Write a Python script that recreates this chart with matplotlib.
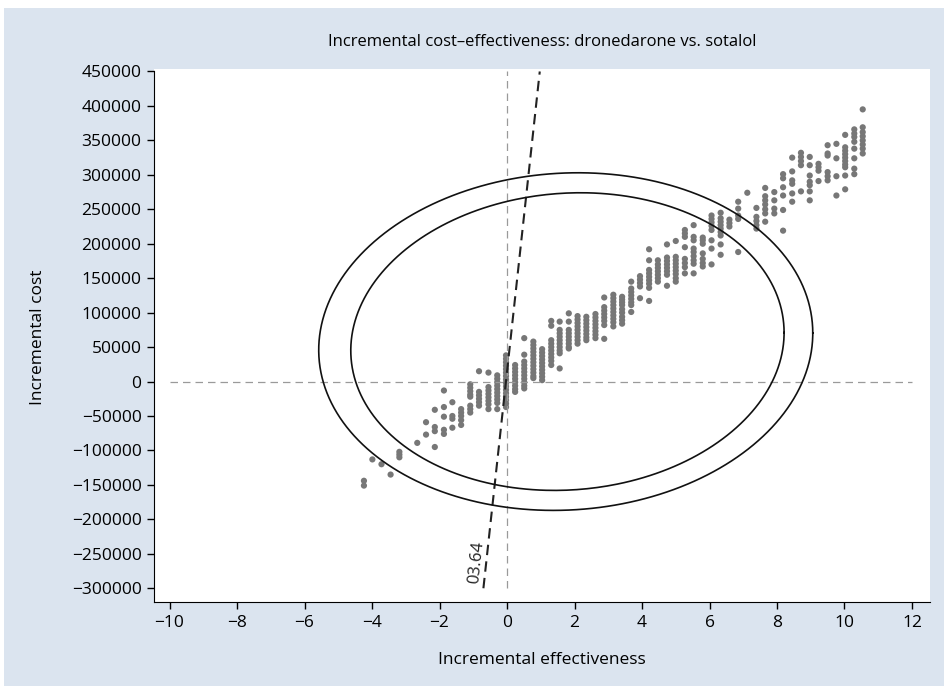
import numpy as np
import matplotlib.pyplot as plt
from matplotlib.patches import Rectangle
from matplotlib.ticker import FuncFormatter

plt.rcParams['font.family'] = ['Open Sans', 'DejaVu Sans']

# bootstrap replicates, read column by column (effectiveness, cost in thousands)
col_eff = [-4.24, -3.99, -3.72, -3.45, -3.19, -2.66, -2.40, -2.14, -1.87, -1.62,
           -1.36, -1.09, -0.83, -0.55, -0.29, -0.03, 0.24, 0.51, 0.78, 1.04,
           1.31, 1.56, 1.83, 2.09, 2.35, 2.62, 2.88, 3.15, 3.41, 3.68,
           3.94, 4.21, 4.47, 4.74, 5.00, 5.27, 5.53, 5.80, 6.06, 6.33,
           6.59, 6.85, 7.12, 7.39, 7.65, 7.92, 8.18, 8.45, 8.71, 8.97,
           9.23, 9.50, 9.76, 10.02, 10.29, 10.54]
col_cost = [
    [-144, -151], [-113], [-120], [-135], [-102, -106, -110], [-89], [-59, -77],
    [-41, -66, -72, -95], [-13, -37, -51, -70, -76], [-30, -50, -54, -67],
    [-40, -45, -50, -56, -63],
    [-4, -9, -14, -19, -22, -35, -40, -45],
    [15, -15, -20, -25, -30, -35],
    [13, -8, -13, -18, -23, -28, -33, -40],
    [9, 4, -1, -6, -11, -16, -21, -26, -31, -40],
    [38, 33, 28, 23, 18, 13, 8, 3, -2, -7, -12, -17, -22, -27, -32, -37],
    [24, 19, 14, 9, 4, -1, -6, -11, -15],
    [63, 39, 29, 24, 19, 14, 9, 4, -1, -6, -10],
    [58, 53, 48, 43, 38, 33, 28, 23, 18, 13, 8, 5],
    [47, 42, 37, 32, 27, 22, 17, 12, 7, 2],
    [88, 81, 60, 55, 50, 45, 40, 35, 30, 24],
    [87, 75, 70, 65, 60, 55, 50, 45, 41, 19],
    [99, 87, 75, 70, 65, 60, 55, 50, 48],
    [95, 90, 85, 80, 75, 70, 65, 60, 55],
    [94, 89, 84, 79, 74, 69, 64, 60],
    [98, 93, 88, 83, 78, 73, 68, 63],
    [122, 108, 103, 98, 93, 88, 82, 62],
    [126, 121, 116, 111, 106, 101, 96, 91, 86, 80],
    [123, 119, 115, 111, 105, 100, 94, 89, 84],
    [145, 135, 130, 125, 120, 115, 111, 101],
    [153, 148, 143, 138, 121],
    [192, 176, 162, 157, 152, 147, 142, 136, 117],
    [176, 170, 165, 160, 155, 150, 145],
    [199, 180, 175, 170, 165, 160, 155, 139],
    [204, 181, 176, 171, 166, 161, 156, 150, 145],
    [220, 215, 210, 195, 178, 172, 166, 157],
    [227, 210, 205, 193, 188, 182, 176, 171, 157],
    [209, 205, 200, 186, 178, 172, 167],
    [241, 236, 231, 226, 220, 205, 193, 170],
    [245, 237, 232, 227, 222, 217, 212, 199, 184],
    [235, 230, 225],
    [261, 251, 241, 236, 188],
    [274],
    [252, 239, 233, 227, 222],
    [281, 269, 263, 257, 250, 244, 232],
    [275, 263, 251, 244],
    [301, 295, 282, 270, 249, 219],
    [325, 305, 292, 287, 273, 261],
    [332, 326, 320, 314, 276],
    [326, 314, 299, 290, 285, 276, 263],
    [316, 311, 306, 291],
    [343, 331, 328, 304, 298, 292],
    [345, 324, 298, 270],
    [358, 340, 335, 330, 325, 320, 315, 311, 299, 279],
    [366, 360, 355, 348, 338, 324, 309, 301],
    [395, 369, 362, 356, 350, 344, 338, 331],
]

# confidence ellipses: centre x, centre y, half width, half height, correlation
outer_ellipse = [1.74, 58000, 7.32, 245000, 0.05]
inner_ellipse = [1.79, 58000, 6.42, 216000, 0.06]

# threshold line ends
wtp_x = [-0.70, 0.97]
wtp_y = [-300000, 450000]
wtp_label = '03.64'

x_ticks = list(range(-10, 13, 2))
y_ticks = list(range(-300000, 450001, 50000))

eff = np.repeat(col_eff, [len(c) for c in col_cost])
cost = np.concatenate(col_cost) * 1000.0

fig = plt.figure(figsize=(9.45, 6.86), dpi=100)
fig.patch.set_facecolor('white')
fig.add_artist(Rectangle((4 / 945, 0), 1, 1 - 8 / 686, transform=fig.transFigure,
                         facecolor='#dbe4ef', edgecolor='none', zorder=0))

ax = fig.add_axes([0.163, 0.1224, 0.821, 0.777])
ax.set_facecolor('white')
ax.set_xlim(-10.46, 12.53)
ax.set_ylim(-320000, 453600)

ax.scatter(eff, cost, s=20, color='#777777', edgecolors='none', zorder=2)

# reference axes through the origin
ax.plot([0, 0], [y_ticks[0], y_ticks[-1]], color='#9a9a9a', lw=0.9,
        dashes=(6, 4), zorder=3)
ax.plot([x_ticks[0], x_ticks[-1]], [0, 0], color='#9a9a9a', lw=0.9,
        dashes=(6, 4), zorder=3)

ax.plot(wtp_x, wtp_y, color='#222222', lw=1.5, dashes=(5, 3), zorder=4)

t = np.linspace(0, 2 * np.pi, 400)
for cx, cy, w, h, rho in [outer_ellipse, inner_ellipse]:
    ex = cx + w * np.cos(t)
    ey = cy + h * (rho * np.cos(t) + np.sqrt(1 - rho ** 2) * np.sin(t))
    ax.plot(ex, ey, color='#111111', lw=1.2, zorder=4)

ax.text(-0.90, -262000, wtp_label, rotation=83.7, ha='center', va='center',
        fontsize=12, color='#222222')

for s in ['top', 'right']:
    ax.spines[s].set_visible(False)
ax.spines['left'].set_bounds(-320000, 450000)
ax.set_xticks(x_ticks)
ax.set_yticks(y_ticks)
fmt = FuncFormatter(lambda v, p: f'{int(round(v))}'.replace('-', '\u2212'))
ax.xaxis.set_major_formatter(fmt)
ax.yaxis.set_major_formatter(fmt)
ax.tick_params(direction='out', length=5, width=1, labelsize=12.5, pad=4)

fig.text(542 / 945, 1 - 42 / 686, 'Incremental cost\u2013effectiveness: dronedarone vs. sotalol',
         ha='center', va='center', fontsize=12)
fig.text(542 / 945, 1 - 660 / 686, 'Incremental effectiveness', ha='center', va='center',
         fontsize=12.5)
fig.text(38 / 945, 1 - 337 / 686, 'Incremental cost', ha='center', va='center',
         rotation=90, fontsize=12.5)

fig.savefig('out.png', dpi=100)
